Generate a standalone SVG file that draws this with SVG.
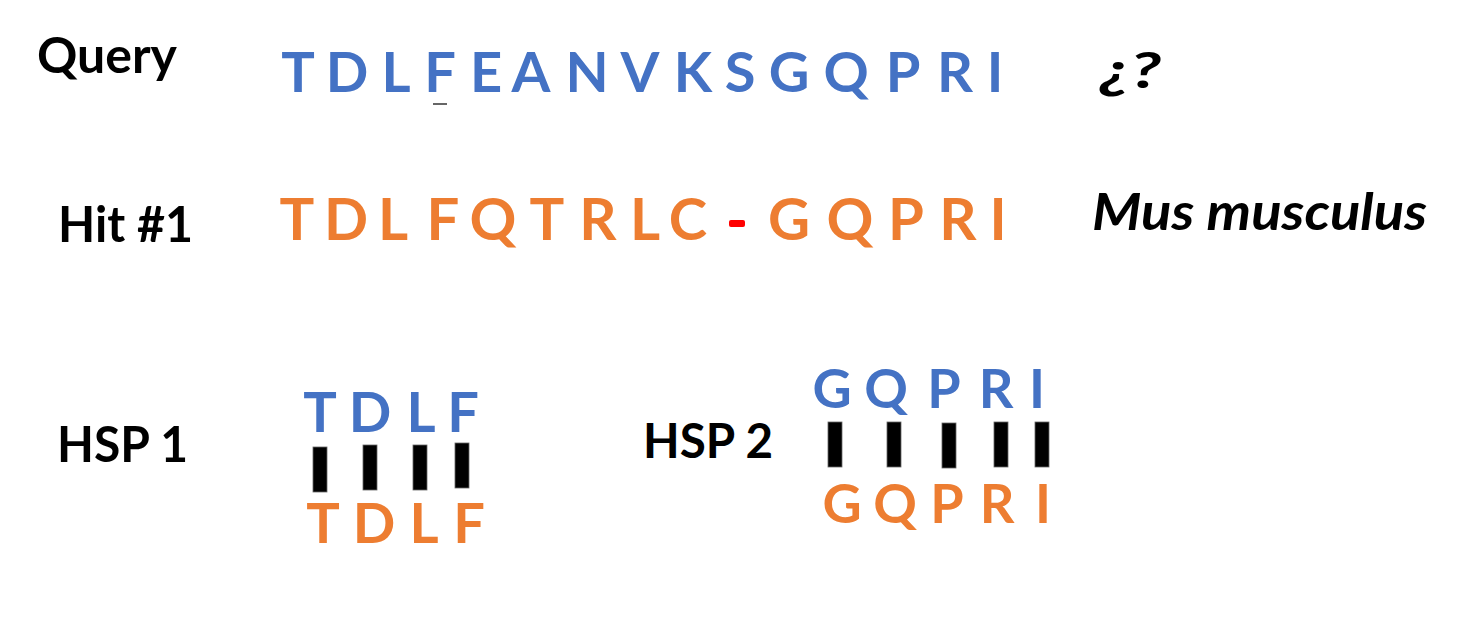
<svg xmlns="http://www.w3.org/2000/svg" width="1464" height="626" viewBox="0 0 1464 626">
  <style>
    .lbl { font-family: Lato, "Liberation Sans", sans-serif; font-weight: 700; fill: #000; }
    .seq { font-family: Lato, "Liberation Sans", sans-serif; font-weight: 700; text-anchor: middle; }
    .q { fill: #4472C4; }
    .h { fill: #ED7D31; }
    .bar { fill: #000; stroke: #666; stroke-width: 0.8; }
  </style>
  <rect width="1464" height="626" fill="#fff"/>

  <g id="query">
    <text class="lbl" x="37" y="73" font-size="50" textLength="140" lengthAdjust="spacingAndGlyphs">Query</text>
    <g class="seq q" font-size="56">
      <text x="298" y="92">T</text>
      <text x="347" y="92">D</text>
      <text x="396" y="92">L</text>
      <text x="440" y="92">F</text>
      <text x="486" y="92">E</text>
      <text x="531" y="92">A</text>
      <text x="587" y="92">N</text>
      <text x="640" y="92">V</text>
      <text x="693" y="92">K</text>
      <text x="740" y="92">S</text>
      <text x="789" y="92">G</text>
      <text x="846" y="92">Q</text>
      <text x="903" y="92">P</text>
      <text x="955" y="92">R</text>
      <text x="995" y="92">I</text>
    </g>
    <line x1="433" y1="104" x2="447" y2="104" stroke="#333" stroke-width="1.5"/>
    <text class="lbl" x="1100" y="88" font-size="50" font-style="italic" textLength="61" lengthAdjust="spacingAndGlyphs">¿?</text>
  </g>

  <g id="hit1">
    <text class="lbl" x="58" y="242" font-size="50" textLength="135" lengthAdjust="spacingAndGlyphs">Hit #1</text>
    <g class="seq h" font-size="58">
      <text x="297" y="240">T</text>
      <text x="346" y="240">D</text>
      <text x="393" y="240">L</text>
      <text x="443" y="240">F</text>
      <text x="493" y="240">Q</text>
      <text x="547" y="240">T</text>
      <text x="598" y="240">R</text>
      <text x="645" y="240">L</text>
      <text x="688" y="240">C</text>
      <text x="789" y="240">G</text>
      <text x="850" y="240">Q</text>
      <text x="906" y="240">P</text>
      <text x="958" y="240">R</text>
      <text x="998" y="240">I</text>
    </g>
    <rect x="729" y="220" width="16" height="7" rx="2" fill="#FF0000"/>
    <text class="lbl" x="1092" y="230" font-size="52" font-style="italic" textLength="335" lengthAdjust="spacingAndGlyphs">Mus musculus</text>
  </g>

  <g id="hsp1">
    <text class="lbl" x="57" y="462" font-size="50" textLength="131" lengthAdjust="spacingAndGlyphs">HSP 1</text>
    <g class="seq q" font-size="56">
      <text x="320" y="432">T</text>
      <text x="370" y="432">D</text>
      <text x="421" y="432">L</text>
      <text x="463" y="432">F</text>
    </g>
    <g class="seq h" font-size="56">
      <text x="323" y="543">T</text>
      <text x="374" y="543">D</text>
      <text x="424" y="543">L</text>
      <text x="469" y="543">F</text>
    </g>
  </g>

  <g id="hsp2">
    <text class="lbl" x="643" y="458" font-size="48" textLength="130" lengthAdjust="spacingAndGlyphs">HSP 2</text>
    <g class="seq q" font-size="54">
      <text x="832" y="408">G</text>
      <text x="886" y="408">Q</text>
      <text x="944" y="408">P</text>
      <text x="996" y="408">R</text>
      <text x="1037" y="408">I</text>
    </g>
    <g class="seq h" font-size="54">
      <text x="842" y="523">G</text>
      <text x="895" y="523">Q</text>
      <text x="947" y="523">P</text>
      <text x="997" y="523">R</text>
      <text x="1043" y="523">I</text>
    </g>
  </g>

  <g id="connectors">
    <rect class="bar" x="313" y="447" width="14" height="45"/>
    <rect class="bar" x="363" y="445" width="14" height="45"/>
    <rect class="bar" x="413" y="445" width="14" height="45"/>
    <rect class="bar" x="455" y="443" width="14" height="45"/>
    <rect class="bar" x="828" y="422" width="14" height="45"/>
    <rect class="bar" x="887" y="422" width="14" height="45"/>
    <rect class="bar" x="942" y="423" width="14" height="45"/>
    <rect class="bar" x="994" y="422" width="14" height="45"/>
    <rect class="bar" x="1035" y="422" width="14" height="45"/>
  </g>
</svg>
